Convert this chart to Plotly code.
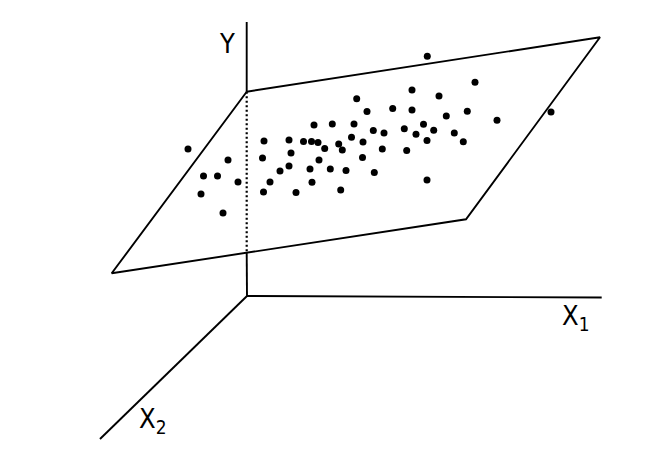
import plotly.graph_objects as go

# Diagram coordinates (horizontal position, vertical position measured downward)
# Observations scattered around the regression plane
dot_x = [188, 201, 203.5, 217.5, 223, 228, 238, 262.5, 263.5, 264, 270, 280, 289, 289, 291,
         296, 303.5, 310, 311.5, 312, 314, 318, 319, 324.7, 330.3, 332.3, 338.7, 340.7, 342.3,
         346, 351.5, 354, 356.7, 362.5, 363, 367, 373.3, 374.3, 382.3, 384, 392.7, 404.3,
         406.7, 412, 412, 416, 423.5, 427, 427, 427.3, 433.7, 439, 446.3, 454.3, 463.3, 467.3,
         475, 497, 551]
dot_y = [149, 194, 176, 176, 213, 160, 182, 158, 192, 141, 182, 171, 166, 140, 153,
         192.5, 141.5, 169, 141.5, 182.3, 125, 142.5, 160, 148.5, 169, 124, 144, 190, 150,
         170.5, 137.3, 124, 98.7, 157.5, 142, 111.5, 130.5, 172.5, 149, 133, 108.5, 128.7,
         150.5, 90, 110, 134.3, 124.2, 140.5, 180, 56.3, 130.2, 96, 116, 133, 141.7, 111.2,
         82.3, 120.2, 112]

# Regression plane corners (closed polygon)
plane_x = [246.7, 600, 466, 111.7, 246.7]
plane_y = [91.7, 37.3, 219.3, 273.3, 91.7]

# Axes: origin and end points
origin = (247, 296)
y_axis_top = (246.7, 22)
x1_end = (601.7, 297.5)
x2_end = (100, 439)
plane_front_at_y = 252.7   # where the plane's front edge crosses the Y axis
plane_back_at_y = 91.7     # where the plane's back corner sits on the Y axis

# Axis labels
label_text = ["Y", "X<sub>1</sub>", "X<sub>2</sub>"]
label_x = [226.5, 575, 152]
label_y = [43, 317, 420]

PAGE_OFFSET = 8  # browser's default body margin

fig = go.Figure()
line = dict(color="black", width=1.9)

fig.add_trace(go.Scatter(x=plane_x, y=plane_y, mode="lines", line=line, hoverinfo="skip"))
# Y axis: solid above plane, dotted behind plane, solid below plane
fig.add_trace(go.Scatter(x=[y_axis_top[0], y_axis_top[0]], y=[y_axis_top[1], plane_back_at_y],
                         mode="lines", line=line, hoverinfo="skip"))
fig.add_trace(go.Scatter(x=[y_axis_top[0], y_axis_top[0]], y=[plane_back_at_y, plane_front_at_y],
                         mode="lines", line=dict(color="black", width=2.2, dash="2px,2.5px"),
                         hoverinfo="skip"))
fig.add_trace(go.Scatter(x=[y_axis_top[0], origin[0]], y=[plane_front_at_y, origin[1]],
                         mode="lines", line=line, hoverinfo="skip"))
fig.add_trace(go.Scatter(x=[origin[0], x1_end[0]], y=[origin[1], x1_end[1]],
                         mode="lines", line=line, hoverinfo="skip"))
fig.add_trace(go.Scatter(x=[origin[0], x2_end[0]], y=[origin[1], x2_end[1]],
                         mode="lines", line=line, hoverinfo="skip"))
fig.add_trace(go.Scatter(x=dot_x, y=dot_y, mode="markers",
                         marker=dict(color="black", size=7, line=dict(width=0))))

for t, lx, ly in zip(label_text, label_x, label_y):
    fig.add_annotation(x=lx, y=ly, text=t, showarrow=False,
                       font=dict(family="Liberation Sans Narrow, DejaVu Sans Condensed, Arial", size=27,
                                 color="black"),
                       xanchor="center", yanchor="middle")

W, H = 644, 445
fig.update_layout(
    width=W, height=H,
    margin=dict(l=0, r=0, t=0, b=0),
    paper_bgcolor="white", plot_bgcolor="white",
    showlegend=False,
    xaxis=dict(range=[PAGE_OFFSET, PAGE_OFFSET + W], visible=False, fixedrange=True),
    yaxis=dict(range=[PAGE_OFFSET + H, PAGE_OFFSET], visible=False, fixedrange=True),
)
fig.write_html("out.html")
